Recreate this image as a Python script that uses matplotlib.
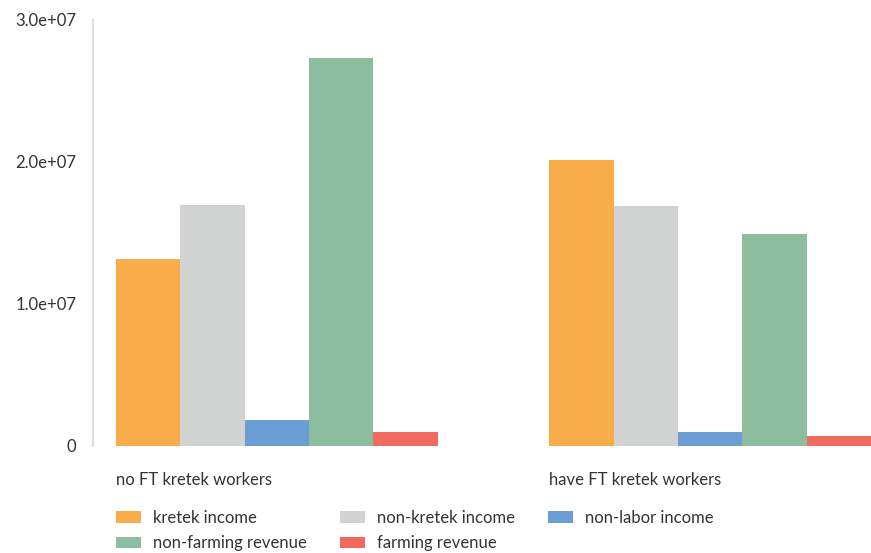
import numpy as np
import matplotlib
matplotlib.use('Agg')
from matplotlib import pyplot as plt

plt.rcParams['font.family'] = ['Lato', 'DejaVu Sans']

groups = ['no FT kretek workers', 'have FT kretek workers']
series = ['kretek income', 'non-kretek income', 'non-labor income',
          'non-farming revenue', 'farming revenue']
values = {
    'kretek income':       [1.317e7, 2.014e7],
    'non-kretek income':   [1.697e7, 1.690e7],
    'non-labor income':    [0.183e7, 0.099e7],
    'non-farming revenue': [2.732e7, 1.493e7],
    'farming revenue':     [0.099e7, 0.070e7],
}
colors = ['#F9AC4A', '#D1D3D2', '#6A9ED4', '#8CBD9F', '#F16A60']
yticks = [0, 1e7, 2e7, 3e7]
ytick_labels = ['0', '1.0e+07', '2.0e+07', '3.0e+07']

text_color = '#333333'

fig = plt.figure(figsize=(8.71, 5.53), dpi=100)
ax = fig.add_axes([93 / 871, 107 / 553, 778 / 871, 426 / 553])

w = 0.1484
x = np.arange(len(groups))
bars = []
for j, name in enumerate(series):
    b = ax.bar(x + j * w, values[name], width=w, align='edge',
               color=colors[j], label=name, linewidth=0)
    bars.append(b)

ax.set_xlim(-0.053, 1 + 5 * w)
ax.set_ylim(0, 3e7)

for s in ['top', 'right', 'bottom']:
    ax.spines[s].set_visible(False)
ax.spines['left'].set_color('#DDDDDD')
ax.spines['left'].set_linewidth(1.5)

ax.set_yticks(yticks)
ax.set_yticklabels(ytick_labels)
ax.set_xticks(x)
ax.set_xticklabels(groups, ha='left')
ax.tick_params(axis='y', length=0, pad=12, labelsize=12, labelcolor=text_color)
ax.tick_params(axis='x', length=0, pad=18.5, labelsize=12, labelcolor=text_color)

# legend: two rows, ordered for column-major filling
order = [0, 3, 1, 4, 2]
fig.legend([bars[i] for i in order], [series[i] for i in order],
           loc='upper left', bbox_to_anchor=(116 / 871, 1 - 510 / 553),
           ncol=3, frameon=False, fontsize=12, labelcolor=text_color,
           handlelength=1.5, handleheight=0.7, handletextpad=0.7,
           columnspacing=2.0, labelspacing=0.55, borderpad=0, borderaxespad=0)

plt.savefig('out.png', dpi=100)
